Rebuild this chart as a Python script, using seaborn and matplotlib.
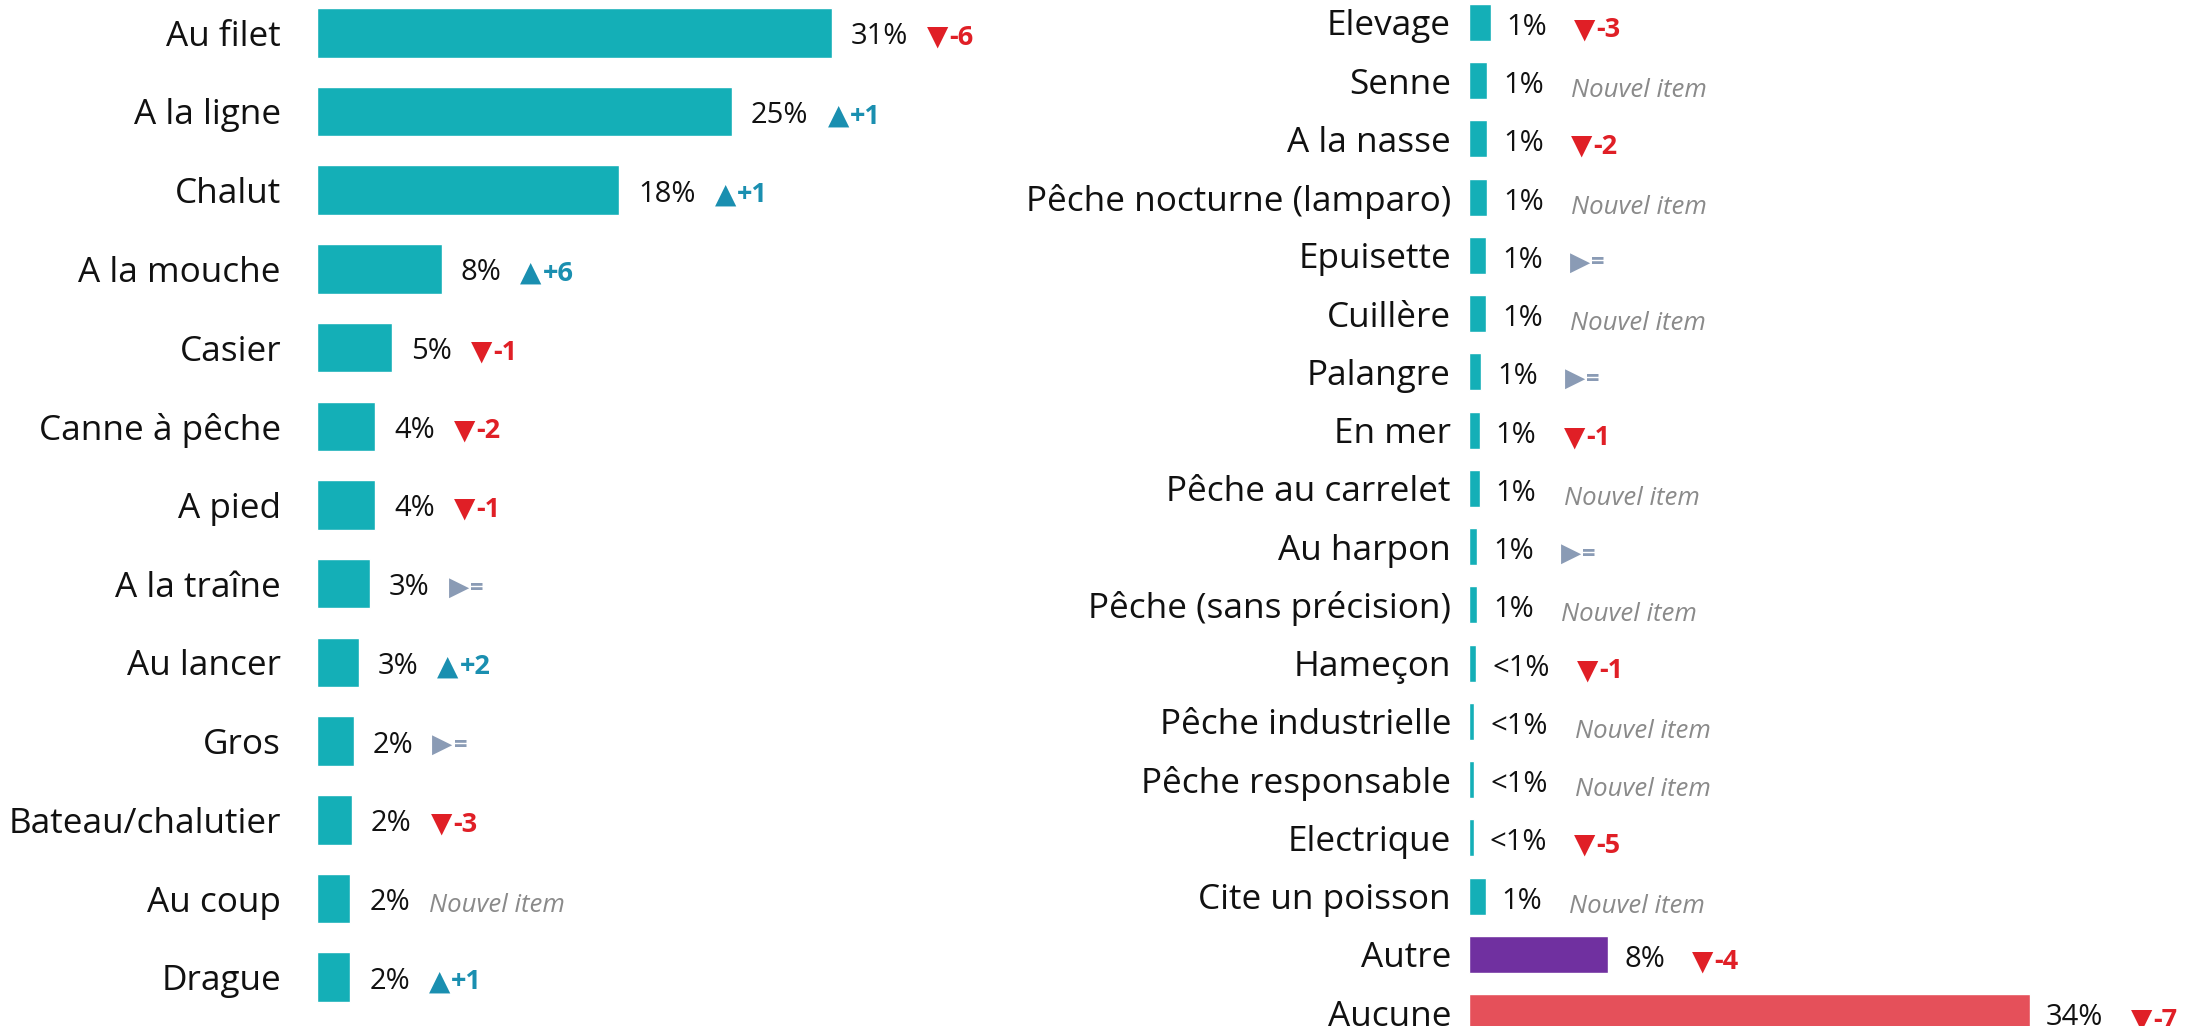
import seaborn as sns
import pandas as pd
import matplotlib.pyplot as plt

# left panel
left_labels = ['Au filet', 'A la ligne', 'Chalut', 'A la mouche', 'Casier', 'Canne à pêche',
               'A pied', 'A la traîne', 'Au lancer', 'Gros', 'Bateau/chalutier', 'Au coup', 'Drague']
left_values = [31, 25, 18.2, 7.5, 4.5, 3.5, 3.5, 3.2, 2.5, 2.2, 2.1, 2.0, 2.0]
left_texts = ['31%', '25%', '18%', '8%', '5%', '4%', '4%', '3%', '3%', '2%', '2%', '2%', '2%']
left_changes = ['-6', '+1', '+1', '+6', '-1', '-2', '-1', '=', '+2', '=', '-3', 'new', '+1']

# right panel
right_labels = ['Elevage', 'Senne', 'A la nasse', 'Pêche nocturne (lamparo)', 'Epuisette', 'Cuillère',
                'Palangre', 'En mer', 'Pêche au carrelet', 'Au harpon', 'Pêche (sans précision)',
                'Hameçon', 'Pêche industrielle', 'Pêche responsable', 'Electrique', 'Cite un poisson',
                'Autre', 'Aucune']
right_values = [1.3, 1.1, 1.1, 1.1, 1.05, 1.05, 0.75, 0.65, 0.65, 0.5, 0.5, 0.45, 0.32, 0.32, 0.28,
                1.0, 8.4, 33.8]
right_texts = ['1%', '1%', '1%', '1%', '1%', '1%', '1%', '1%', '1%', '1%', '1%', '<1%', '<1%', '<1%',
               '<1%', '1%', '8%', '34%']
right_changes = ['-3', 'new', '-2', 'new', '=', 'new', '=', '-1', 'new', '=', 'new', '-1', 'new', 'new',
                 '-5', 'new', '-4', '-7']

TEAL = '#14afb7'
right_colors = [TEAL] * 16 + ['#7030a0', '#e5505a']

FAM = ['Open Sans', 'DejaVu Sans']
sns.set_theme(style='white')
plt.rcParams['font.family'] = FAM

W, H = 2192, 1026
fig = plt.figure(figsize=(W / 100, H / 100), dpi=100)
PX = 16.6  # pixels per percent


def indicator(ax, t, c, gap, dy):
    if c == 'new':
        ax.annotate('Nouvel item', xy=(1, 0.5), xycoords=t, xytext=(gap, -dy - 3), textcoords='offset pixels',
                    va='center', ha='left', color='#8a8a8a', style='italic', fontsize=18.5)
        return
    if c == '=':
        tri, num, col, size, nsize = '▶', '=', '#8a9bb5', 19, 17
    elif c.startswith('+'):
        tri, num, col, size, nsize = '▲', c, '#1a8fb0', 20, 19.5
    else:
        tri, num, col, size, nsize = '▼', c, '#e01f26', 20, 19.5
    a = ax.annotate(tri, xy=(1, 0.5), xycoords=t, xytext=(gap, -dy), textcoords='offset pixels',
                    va='center', ha='left', color=col, fontsize=size, family='DejaVu Sans')
    ax.annotate(num, xy=(1, 0.5), xycoords=a, xytext=(1, -1), textcoords='offset pixels',
                va='center', ha='left', color=col, fontsize=nsize, weight='bold')


def panel(x0, first, step, barh, labels, values, texts, changes, colors, lab_pad, val_pad, lab_size,
          vdy, gap, idy):
    n = len(labels)
    ax = fig.add_axes([x0 / W, 0, 42 * PX / W, 1])
    df = pd.DataFrame({'label': labels, 'value': values})
    sns.barplot(data=df, x='value', y='label', hue='label', palette=colors, legend=False,
                width=barh, saturation=1, ax=ax)
    ax.set_xlim(0, 42)
    ax.set_ylim((H - first) / step, -first / step)
    ax.set_xlabel('')
    ax.set_ylabel('')
    ax.set_xticks([])
    sns.despine(ax=ax, left=True, bottom=True)
    ax.tick_params(axis='y', length=0, pad=lab_pad * 0.72, labelsize=lab_size, labelcolor='#111111')
    for i in range(n):
        t = ax.annotate(texts[i], xy=(values[i], i), xytext=(val_pad, -vdy), textcoords='offset pixels',
                        va='center', ha='left', fontsize=21, color='#111111')
        indicator(ax, t, changes[i], gap, idy)
    return ax


panel(317, 32.8, 78.7, 0.63, left_labels, left_values, left_texts, left_changes,
      [TEAL] * len(left_labels), 36, 19, 25.3, 4, 19, 0)
panel(1469, 22.3, 58.26, 0.635, right_labels, right_values, right_texts, right_changes,
      right_colors, 18, 16, 25.3, 5, 27, 2)

fig.savefig('out.png', dpi=100)
